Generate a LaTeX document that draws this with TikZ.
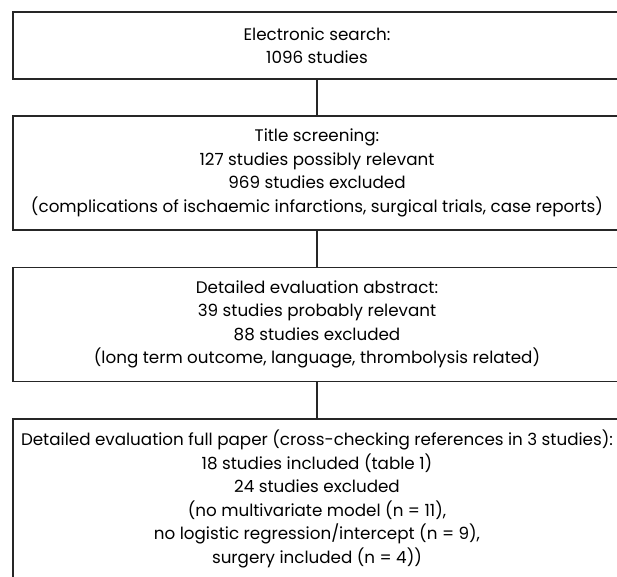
\documentclass[tikz,border=0pt]{standalone}
\usepackage{fontspec}
\setmainfont{Poppins}
\newlength\LongW
\begin{document}
\settowidth\LongW{\fontsize{10pt}{12pt}\selectfont Detailed evaluation full paper (cross-checking references in 3 studies):}
\pgfmathsetmacro\FS{10*592/\LongW}
\begin{tikzpicture}[x=1pt,y=1pt,
  flowbox/.style={draw=black!85, line width=1.3pt, rectangle, inner sep=0pt,
    minimum width=608pt, align=center,
    font=\fontsize{\FS pt}{23.5pt}\selectfont},
  link/.style={draw=black!85, line width=1.3pt}]
\useasboundingbox (0,0) rectangle (617,-576);
\clip (0,0) rectangle (617,-576);
\node[flowbox, minimum height=67pt] (b1) at (317,-45.5) {Electronic search:\\1096 studies};
\node[flowbox, minimum height=114pt] (b2) at (317,-173) {Title screening:\\127 studies possibly relevant\\969 studies excluded\\(complications of ischaemic infarctions, surgical trials, case reports)};
\node[flowbox, minimum height=114pt] (b3) at (317,-324.5) {Detailed evaluation abstract:\\39 studies probably relevant\\88 studies excluded\\(long term outcome, language, thrombolysis related)};
\node[flowbox, minimum height=160pt] (b4) at (317,-499) {Detailed evaluation full paper (cross-checking references in 3 studies):\\18 studies included (table 1)\\24 studies excluded\\(no multivariate model (n = 11),\\no logistic regression/intercept (n = 9),\\surgery included (n = 4))};
\draw[link] (b1.south) -- (b2.north);
\draw[link] (b2.south) -- (b3.north);
\draw[link] (b3.south) -- (b4.north);
\end{tikzpicture}
\end{document}
